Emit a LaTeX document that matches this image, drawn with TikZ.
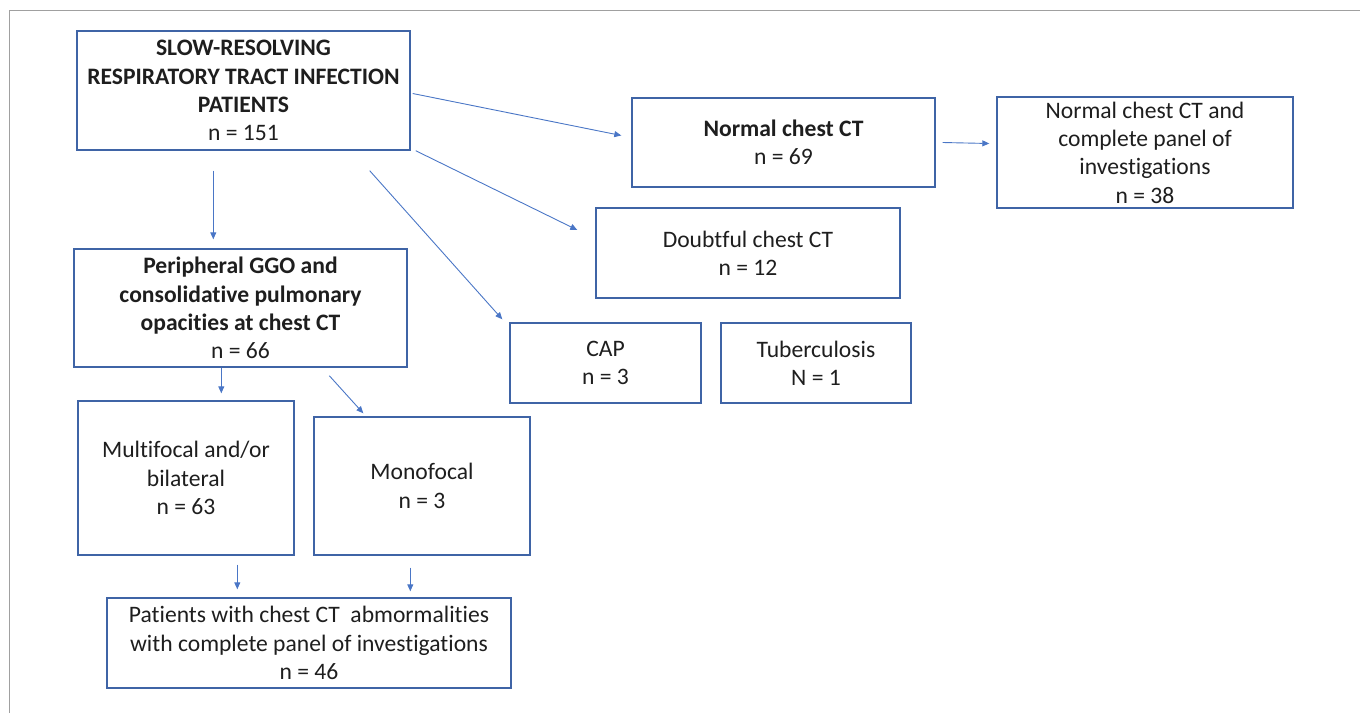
\documentclass[tikz,border=0pt]{standalone}
\usepackage{fontspec}
\setmainfont[Ligatures=NoCommon]{Carlito}
\usetikzlibrary{arrows.meta,calc}
\definecolor{boxblue}{HTML}{3F64A6}
\definecolor{arrblue}{HTML}{4A76C6}
\definecolor{txt}{HTML}{1E1E1E}
\definecolor{frame}{HTML}{A0A0A0}
\begin{document}
\begin{tikzpicture}[x=1pt,y=-1pt,
  box/.style={draw=boxblue,line width=1.4pt,inner sep=0pt,align=center,text=txt,
    font=\fontsize{23.6}{28.3}\selectfont},
  arr/.style={draw=arrblue,line width=0.9pt,-{Triangle[length=7pt,width=6pt]}}]
\useasboundingbox (0,0) rectangle (1360,713);
\draw[frame,line width=0.9pt] (9,713) -- (9,10) -- (1360,10);
% nodes
\node[box,minimum width=333,minimum height=119] (top) at (243.5,90.5)
  {\textbf{SLOW-RESOLVING}\\\textbf{RESPIRATORY TRACT INFECTION}\\\textbf{PATIENTS}\\n = 151};
\node[box,minimum width=303,minimum height=89] (normal) at (783.5,142.5)
  {\textbf{Normal chest CT}\\n = 69};
\node[box,minimum width=296,minimum height=111] (final) at (1145,152.5)
  {Normal chest CT and\\complete panel of\\investigations\\n = 38};
\node[box,minimum width=304,minimum height=90] (doubt) at (748,253)
  {Doubtful chest CT\\n = 12};
\node[box,minimum width=333,minimum height=118] (periph) at (240.5,308)
  {\textbf{Peripheral GGO and}\\\textbf{consolidative pulmonary}\\\textbf{opacities at chest CT}\\n = 66};
\node[box,minimum width=191,minimum height=80] (cap) at (605.5,363)
  {CAP\\n = 3};
\node[box,minimum width=190,minimum height=80] (tb) at (816,363)
  {Tuberculosis\\N = 1};
\node[box,minimum width=216,minimum height=154] (multi) at (186,478)
  {Multifocal and/or\\bilateral\\n = 63};
\node[box,minimum width=216,minimum height=138] (mono) at (422,486)
  {Monofocal\\n = 3};
\node[box,minimum width=404,minimum height=90] (bottom) at (309,643)
  {Patients with chest CT~~abmormalities\\with complete panel of investigations\\n = 46};
% connectors
\draw[arr] ($(top.east)+(2,3)$) -- ($(normal.west)+(-10,-7)$);
\draw[arr] ($(top.south east)+(5,0)$) -- ($(doubt.west)+(-18,-23)$);
\draw[arr] ($(top.south east)+(-41,20)$) -- ($(cap.north west)+(-7,-3)$);
\draw[arr] ($(top.south west)+(137,20)$) -- ($(periph.north west)+(140,-9)$);
\draw[arr] ($(normal.east)+(7,0)$) -- ($(final.west)+(-7,-9)$);
\draw[arr] ($(periph.south west)+(148,0)$) -- ($(multi.north west)+(144,-7)$);
\draw[arr] ($(periph.south west)+(256,8)$) -- ($(mono.north west)+(50,-3)$);
\draw[arr] ($(multi.south west)+(160,9)$) -- ($(bottom.north west)+(131,-8)$);
\draw[arr] ($(mono.south west)+(97,12)$) -- ($(bottom.north west)+(304,-6)$);
\end{tikzpicture}
\end{document}
